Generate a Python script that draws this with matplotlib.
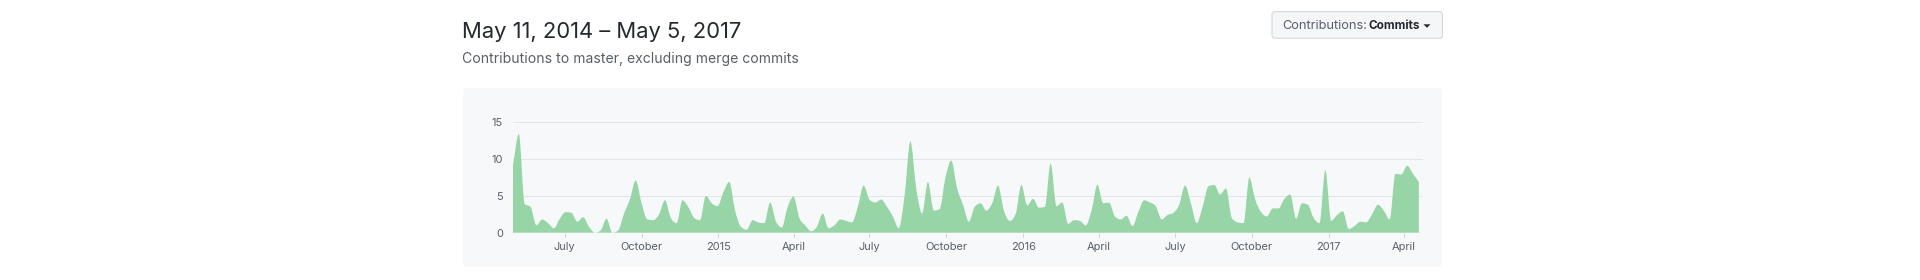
import numpy as np
import pandas as pd
import matplotlib
matplotlib.use("Agg")
import matplotlib.pyplot as plt
import matplotlib.dates as mdates
from matplotlib.patches import FancyBboxPatch, PathPatch, Polygon
from matplotlib.path import Path
from matplotlib.transforms import IdentityTransform
from matplotlib.ticker import FuncFormatter

# ---------------- data ----------------
title_text = "May 11, 2014 \u2013 May 5, 2017"
subtitle_text = "Contributions to master, excluding merge commits"
button_label = "Contributions:"
button_value = "Commits"

first_week = "2014-04-30"
weekly_commits = [
    9.2, 13.4, 3.9, 3.5, 1.0, 1.8, 1.3, 0.6, 1.9, 2.8,
    2.7, 1.5, 2.1, 0.8, 0.0, 0.3, 1.9, 0.0, 0.3, 2.6,
    4.5, 7.1, 4.0, 1.8, 1.7, 2.5, 4.4, 2.0, 1.3, 4.4,
    3.5, 2.0, 1.7, 5.0, 4.0, 3.6, 5.5, 6.9, 3.0, 0.8,
    0.4, 1.7, 1.4, 1.3, 4.1, 1.5, 0.7, 3.5, 4.9, 2.0,
    1.0, 0.2, 0.8, 2.6, 0.6, 1.0, 1.8, 1.6, 1.4, 3.5,
    6.4, 4.5, 4.1, 4.5, 3.5, 2.2, 0.6, 5.0, 12.4, 6.0,
    2.6, 6.9, 3.0, 3.2, 7.5, 9.8, 6.0, 3.8, 1.5, 3.5,
    4.0, 3.0, 4.0, 6.4, 3.0, 1.6, 2.5, 6.5, 3.7, 4.6,
    3.4, 3.5, 9.4, 3.6, 4.1, 1.2, 1.7, 1.6, 1.0, 3.0,
    6.5, 4.0, 4.1, 2.2, 1.8, 2.3, 0.9, 2.8, 4.4, 4.1,
    3.6, 1.8, 2.4, 2.7, 3.8, 6.4, 4.0, 1.3, 3.5, 6.3,
    6.5, 5.2, 6.0, 2.0, 1.4, 1.3, 7.5, 4.5, 2.8, 2.2,
    3.3, 3.3, 4.6, 5.2, 1.9, 4.0, 3.8, 2.0, 1.3, 8.5,
    1.6, 2.4, 2.9, 0.5, 0.9, 1.5, 1.4, 2.5, 3.8, 3.0,
    1.8, 8.0, 7.9, 9.1, 8.0, 6.9,
]
y_ticks = [0, 5, 10, 15]

weeks = pd.date_range(first_week, periods=len(weekly_commits), freq="7D")

# ---------------- style ----------------
FONT = ["Inter", "DejaVu Sans"]
plt.rcParams["font.family"] = FONT
W, H = 1920, 280
fig = plt.figure(figsize=(W / 100, H / 100), dpi=100)
fig.patch.set_facecolor("white")
PX = 72 / 100  # points per pixel

# panel background (pixel coords, origin bottom-left)
panel = FancyBboxPatch((463, H - 267), 1442 - 463, 267 - 88,
                       boxstyle="round,pad=0,rounding_size=4",
                       transform=IdentityTransform(), facecolor="#f6f8fa",
                       edgecolor="none", zorder=-5)
fig.patches.append(panel)

# button
btn = FancyBboxPatch((1272, H - 38.3), 1442.5 - 1272, 26.6,
                     boxstyle="round,pad=0,rounding_size=3",
                     transform=IdentityTransform(), facecolor="#f4f6f8",
                     edgecolor="#d1d5da", linewidth=1 * PX, zorder=-4)
fig.patches.append(btn)
fig.text(1282.3 / W, 1 - 28.6 / H, button_label, fontsize=12.8 * PX,
         color="#586069", ha="left", va="baseline")
fig.text(1368.5 / W, 1 - 28.6 / H, button_value, fontsize=11.8 * PX,
         color="#24292e", ha="left", va="baseline", fontweight="bold")
caret = Polygon([[1423.5, H - 24.3], [1430.5, H - 24.3], [1427, H - 27.8]],
                closed=True, transform=IdentityTransform(),
                facecolor="#24292e", edgecolor="none", zorder=2)
fig.patches.append(caret)

# titles
fig.text(462.5 / W, 1 - 38.3 / H, title_text, fontsize=22 * PX,
         color="#24292e", ha="left", va="baseline")
fig.text(462.5 / W, 1 - 63.3 / H, subtitle_text, fontsize=14 * PX,
         color="#586069", ha="left", va="baseline")

# ---------------- axes ----------------
ax_left, ax_right = 513, 1423
ax_bottom, ax_top = 232.7, 122.3
ax = fig.add_axes([ax_left / W, 1 - ax_bottom / H,
                   (ax_right - ax_left) / W, (ax_bottom - ax_top) / H])
ax.set_facecolor("none")
ax.set_zorder(1)
for s in ax.spines.values():
    s.set_visible(False)

start = mdates.date2num(weeks[0])
ax.set_xlim(start, start + 1090)
ax.set_ylim(0, 15)
ax.set_yticks(y_ticks)
ax.grid(axis="y", color="#e1e4e8", linewidth=1 * PX, zorder=0)
ax.set_axisbelow(True)

ax.xaxis.set_major_locator(mdates.MonthLocator(bymonth=[1, 4, 7, 10]))


def fmt(x, pos):
    d = mdates.num2date(x)
    return str(d.year) if d.month == 1 else d.strftime("%B")


ax.xaxis.set_major_formatter(FuncFormatter(fmt))
ax.tick_params(axis="x", length=4.3 * PX, width=1 * PX, color="#d1d5da",
               labelcolor="#586069", labelsize=11 * PX, pad=4.5 * PX)
ax.tick_params(axis="y", length=0, labelcolor="#586069",
               labelsize=11 * PX, pad=10 * PX)

# smooth (monotone-x) area through the weekly values
xs = mdates.date2num(weeks)
ys = np.asarray(weekly_commits, dtype=float)
h = np.diff(xs)
s = np.diff(ys) / h
m = np.zeros_like(ys)
m[0], m[-1] = s[0], s[-1]
for k in range(1, len(ys) - 1):
    s0, s1, h0, h1 = s[k - 1], s[k], h[k - 1], h[k]
    p = (s0 * h1 + s1 * h0) / (h0 + h1)
    m[k] = (np.sign(s0) + np.sign(s1)) * min(abs(s0), abs(s1), 0.5 * abs(p))
verts = [(xs[0], 0.0), (xs[0], ys[0])]
codes = [Path.MOVETO, Path.LINETO]
for k in range(len(ys) - 1):
    dx = h[k] / 3
    verts += [(xs[k] + dx, ys[k] + m[k] * dx),
              (xs[k + 1] - dx, ys[k + 1] - m[k + 1] * dx),
              (xs[k + 1], ys[k + 1])]
    codes += [Path.CURVE4] * 3
verts += [(xs[-1], 0.0), (xs[0], 0.0)]
codes += [Path.LINETO, Path.CLOSEPOLY]
ax.add_patch(PathPatch(Path(verts, codes), facecolor="#97d5a7",
                       edgecolor="none", zorder=2))

fig.savefig("out.png", dpi=100, facecolor="white")
